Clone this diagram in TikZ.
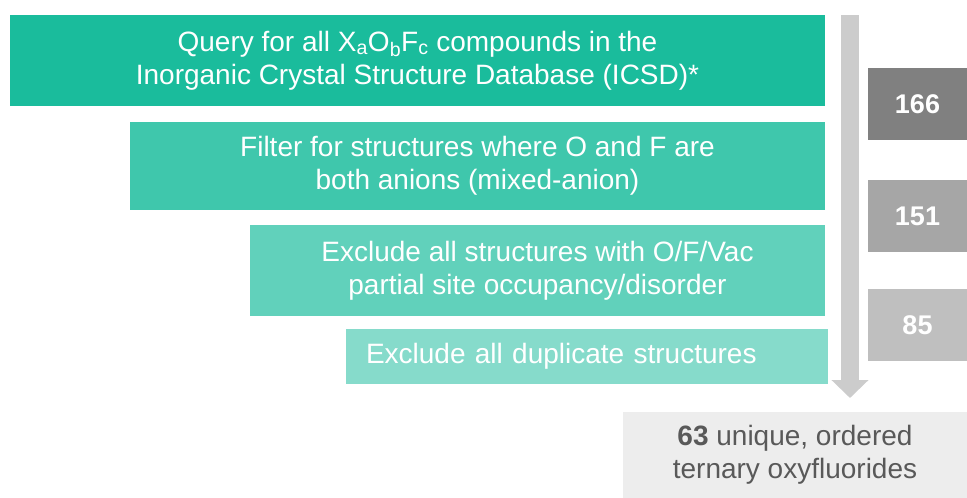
\documentclass[tikz,border=0pt]{standalone}
\usepackage{fontspec}
\setmainfont{Liberation Sans}
\usetikzlibrary{arrows.meta}

\definecolor{icsd}{HTML}{1ABC9C}
\definecolor{flowgray}{HTML}{CCCCCC}
\definecolor{resultbg}{HTML}{EDEDED}
\definecolor{resulttext}{HTML}{595959}

\begin{document}
\begin{tikzpicture}[x=1pt, y=-1pt,
		stage/.style={fill=#1, text=white, align=center, inner sep=0pt, font=\fontsize{28}{33}\selectfont},
		count/.style={fill=#1, text=white, minimum width=99pt, minimum height=72pt, inner sep=0pt, font=\fontsize{27}{32}\selectfont\bfseries}]
		\useasboundingbox (0,0) rectangle (967,498);

		\node[stage=icsd, minimum width=815pt, minimum height=91pt] (query) at (417.5,60.5)
			{Query for all X\textsubscript{a}O\textsubscript{b}F\textsubscript{c} compounds in the\\Inorganic Crystal Structure Database (ICSD)*};
		\node[stage=icsd!84!white, minimum width=695pt, minimum height=88pt] (filter) at (477.5,166)
			{Filter for structures where O and F are\\both anions (mixed-anion)};
		\node[stage=icsd!69!white, minimum width=575pt, minimum height=91pt] (partial) at (537.5,270.5)
			{Exclude all structures with O/F/Vac\\partial site occupancy/disorder};
		\node[stage=icsd!53!white, minimum height=55pt, inner xsep=20pt, text width=442pt, align=left] (dupes) at (587,356.5)
			{Exclude all duplicate structures};

		\node[count=black!50] (n166) at (917.5,104) {166};
		\node[count=black!35] (n151) at (917.5,216) {151};
		\node[count=black!25] (n85) at (917.5,325) {85};

		\node[fill=resultbg, text=resulttext, align=center, minimum width=344pt, minimum height=86pt, inner sep=0pt, font=\fontsize{28}{33}\selectfont] (result) at (795,455)
			{\textbf{63} unique, ordered\\ternary oxyfluorides};

		\coordinate (flowtop) at (850,15);
		\coordinate (flowend) at (850,398);
		\draw[flowgray, line width=18pt, -{Triangle[length=18pt, width=36pt]}] (flowtop) -- (flowend);

	\end{tikzpicture}
\end{document}
